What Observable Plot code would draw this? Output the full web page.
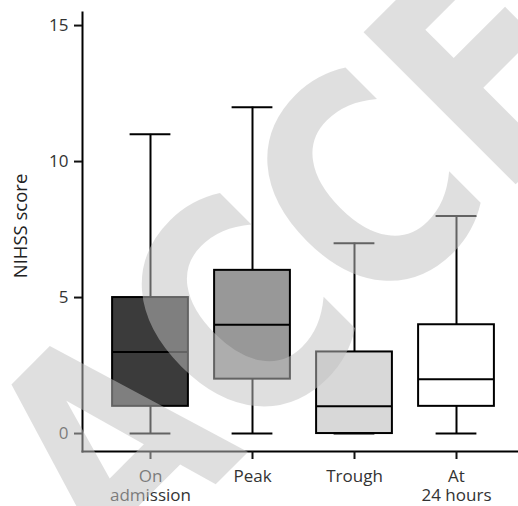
<!DOCTYPE html>
<html>
<head>
<meta charset="utf-8">
<script src="https://cdn.jsdelivr.net/npm/d3@7"></script>
<script src="https://cdn.jsdelivr.net/npm/@observablehq/plot@0.6"></script>
<style>
  html, body { margin: 0; padding: 0; background: #fff; }
  #chart svg { display: block; }
</style>
</head>
<body>
<div id="chart"></div>
<script>
// Data
const categories = ["On\nadmission", "Peak", "Trough", "At\n24 hours"];
const mins    = [0, 0, 0, 0];
const q1s     = [1, 2, 0, 1];
const medians = [3, 4, 1, 2];
const q3s     = [5, 6, 3, 4];
const maxs    = [11, 12, 7, 8];
const boxFills = ["#3b3b3b", "#989898", "#d8d8d8", "#ffffff"];
const yTicks = [0, 5, 10, 15];
const yLabel = "NIHSS score";
const watermark = ["ACCEPTED"];
const yDomain = [-0.66, 15.48];

const data = categories.map((c, i) => ({
  cat: c, min: mins[i], q1: q1s[i], median: medians[i], q3: q3s[i], max: maxs[i]
}));

const font = "Open Sans";
const boxInset = 13.1;
const capInset = 30.6;

const chart = Plot.plot({
  width: 518,
  height: 506,
  marginTop: 12,
  marginBottom: 55,
  marginLeft: 82,
  marginRight: 0,
  style: { fontFamily: font, fontSize: "17px", color: "#000", background: "#fff" },
  x: { domain: categories, range: [98.5, 507.5], padding: 0 },
  y: { domain: yDomain },
  color: { domain: categories, range: boxFills },
  marks: [
    Plot.frame({ anchor: "left", stroke: "#000", strokeWidth: 2 }),
    Plot.frame({ anchor: "bottom", stroke: "#000", strokeWidth: 2 }),
    Plot.axisY({ ticks: yTicks, tickSize: 8, tickPadding: 6, strokeWidth: 2, stroke: "#111", fill: "#333", fontSize: 17, label: null }),
    Plot.axisX({ tickSize: 8, tickPadding: 9, strokeWidth: 2, stroke: "#111", fill: "#333", fontSize: 17, lineHeight: 1.12, label: null }),
    Plot.text([yLabel], { frameAnchor: "left", textAnchor: "middle", rotate: -90, dx: -61, dy: -6, fontSize: 18.5, fill: "#222", fontFamily: font }),
    Plot.ruleX(data, { x: "cat", y1: "q3", y2: "max", stroke: "#000", strokeWidth: 2 }),
    Plot.ruleX(data, { x: "cat", y1: "min", y2: "q1", stroke: "#000", strokeWidth: 2 }),
    Plot.barY(data, { x: "cat", y1: "q1", y2: "q3", fill: "cat", stroke: "#000", strokeWidth: 2, insetLeft: boxInset, insetRight: boxInset }),
    Plot.tickY(data, { x: "cat", y: "median", stroke: "#000", strokeWidth: 2, insetLeft: boxInset, insetRight: boxInset }),
    Plot.tickY(data, { x: "cat", y: "max", stroke: "#000", strokeWidth: 2, insetLeft: capInset, insetRight: capInset }),
    Plot.tickY(data, { x: "cat", y: "min", stroke: "#000", strokeWidth: 2, insetLeft: capInset, insetRight: capInset }),
    Plot.text(watermark, { frameAnchor: "bottom-left", dx: 34, dy: 132, rotate: -45, textAnchor: "start", lineAnchor: "bottom",
      fontSize: 295, fontWeight: "bold", fontFamily: "DejaVu Sans", fill: "#c1c1c1", fillOpacity: 0.515 })
  ]
});

document.getElementById("chart").appendChild(chart);
// condense the watermark glyphs along their baseline
chart.querySelectorAll("text").forEach(t => {
  if (t.textContent === watermark[0]) {
    const tr = t.getAttribute("transform") || "";
    t.setAttribute("transform", tr + " scale(0.82,1)");
    t.style.pointerEvents = "none";
  }
});
</script>
</body>
</html>
